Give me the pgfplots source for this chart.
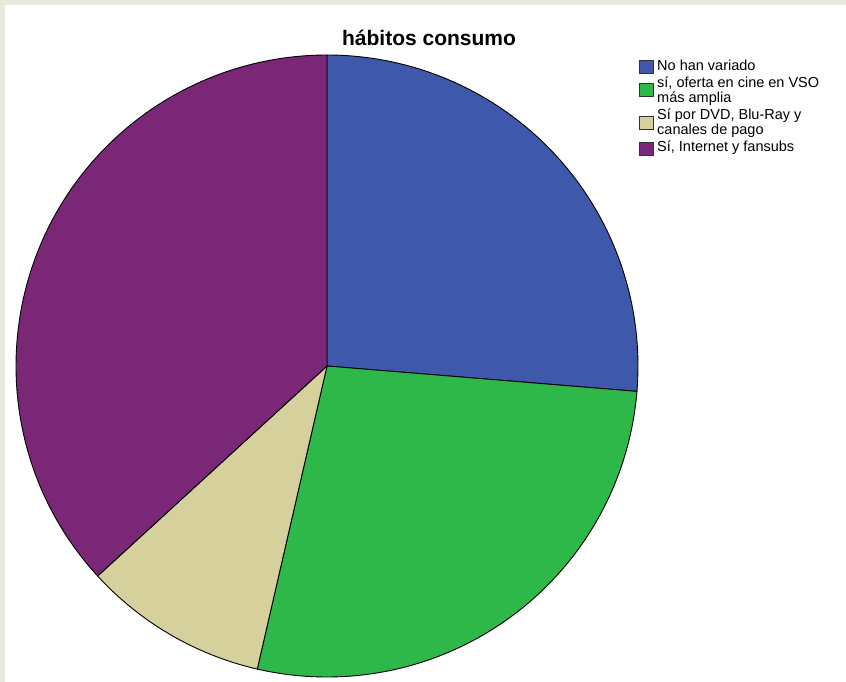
\documentclass[border=0pt]{standalone}
\usepackage{pgfplots}
\pgfplotsset{compat=1.18}
\usepackage{pgfplotstable}
\usepackage{fontspec}
\setmainfont{Liberation Sans}
\definecolor{cBlue}{RGB}{62,88,172}
\definecolor{cGreen}{RGB}{46,184,74}
\definecolor{cBeige}{RGB}{214,208,156}
\definecolor{cPurple}{RGB}{123,39,120}
\definecolor{frameC}{RGB}{232,232,220}
\pgfplotstableread{
idx share color
0 26.3 cBlue
1 27.3 cGreen
2 9.6 cBeige
3 36.8 cPurple
}\piedata
\begin{document}
\begin{tikzpicture}
\begin{axis}[
  name=main,
  scale only axis, width=846pt, height=682pt,
  xmin=0, xmax=846, ymin=0, ymax=682, y dir=reverse,
  hide axis, clip=false]
\fill[white] (axis cs:0,0) rectangle (axis cs:846,682);
\fill[frameC] (axis cs:0,0) rectangle (axis cs:846,5);
\fill[frameC] (axis cs:0,0) rectangle (axis cs:5,682);
\def\startang{90}%
\pgfplotsforeachungrouped \i in {0,...,3}{%
  \pgfplotstablegetelem{\i}{share}\of\piedata \let\sh\pgfplotsretval
  \pgfplotstablegetelem{\i}{color}\of\piedata \let\col\pgfplotsretval
  \pgfmathsetmacro\endang{\startang-3.6*\sh}%
  \edef\temp{\noexpand\filldraw[fill=\col,draw=black,line width=0.9pt,line join=round] (axis cs:327,366) -- ++(\startang:311pt) arc[start angle=\startang,end angle=\endang,radius=311pt] -- cycle;}%
  \temp
  \global\let\startang\endang
}%
\node[anchor=base, inner sep=0, font=\fontsize{21}{24}\selectfont\bfseries] at (axis cs:429,46) {hábitos consumo};
\filldraw[fill=cBlue, draw=black!80, line width=0.8pt] (axis cs:639,60.5) rectangle (axis cs:653,73.5);
\filldraw[fill=cGreen, draw=black!80, line width=0.8pt] (axis cs:639,83.5) rectangle (axis cs:653,96.5);
\filldraw[fill=cBeige, draw=black!80, line width=0.8pt] (axis cs:639,116.5) rectangle (axis cs:653,129.5);
\filldraw[fill=cPurple, draw=black!80, line width=0.8pt] (axis cs:639,142) rectangle (axis cs:653,155);
\begin{scope}[every node/.style={anchor=base west, inner sep=0, font=\fontsize{14.5}{15}\selectfont}]
\node at (axis cs:657,71) {No han variado};
\node at (axis cs:657,88) {sí, oferta en cine en VSO};
\node at (axis cs:657,103) {más amplia};
\node at (axis cs:657,120) {Sí por DVD, Blu-Ray y};
\node at (axis cs:657,135) {canales de pago};
\node at (axis cs:657,152) {Sí, Internet y fansubs};
\end{scope}
\end{axis}
\pgfresetboundingbox
\path[use as bounding box] (main.south west) rectangle (main.north east);
\end{tikzpicture}
\end{document}
